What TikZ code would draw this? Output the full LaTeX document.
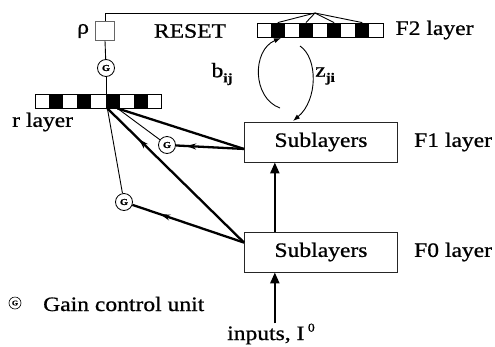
\documentclass[tikz,border=0pt]{standalone}
\usepackage{fontspec}
\setmainfont{Liberation Serif}[FakeStretch=1.15,FakeBold=0.8]
\usetikzlibrary{arrows.meta, positioning, decorations.markings, calc}

\newcommand{\lowidx}[1]{\raisebox{-0.55ex}{\fontsize{13}{13}\selectfont\bfseries #1}}

\tikzset{
  lbl/.style={font=\fontsize{20.5}{22}\selectfont, inner sep=0pt},
  subbox/.style={rectangle, draw=black!85, line width=0.9pt,
                 minimum width=153pt, minimum height=40pt,
                 font=\fontsize{20.5}{22}\selectfont},
  gain/.style={circle, draw, line width=0.8pt, fill=white,
               minimum size=17pt, inner sep=0pt,
               font=\fontsize{9}{9}\selectfont\bfseries},
  cellbar/.style={rectangle, draw, line width=0.8pt, inner sep=0pt,
                  minimum width=126pt, minimum height=14pt},
  thin link/.style={line width=0.9pt},
  thick link/.style={line width=2.3pt},
  midarrow/.style={postaction={decorate},
                   decoration={markings,
                     mark=at position #1 with {\arrow{Stealth[length=10pt,width=6pt]}}}}
}

\begin{document}
\begin{tikzpicture}[x=1pt,y=-1pt]
  \useasboundingbox (0,0) rectangle (495,346);

  \node[cellbar] (rbar) at (98.5,101) {};
  \node[cellbar] (ftwo) at (320,30) {};
  \foreach \i in {1,3,5,7}{
    \fill ($(rbar.south west)!{\i/9}!(rbar.south east)$)
          rectangle ($(rbar.north west)!{(\i+1)/9}!(rbar.north east)$);
    \fill ($(ftwo.south west)!{\i/9}!(ftwo.south east)$)
          rectangle ($(ftwo.north west)!{(\i+1)/9}!(ftwo.north east)$);
  }

  \node[rectangle,draw=black!60,line width=0.6pt,minimum size=19pt,inner sep=0pt]
        (rho) at (105,31) {};
  \node[lbl,left=6pt of rho] (rholbl) {ρ};
  \node[lbl] (reset) at (190,31) {RESET};
  \node[lbl,right=12pt of ftwo] (ftwolbl) {F2 layer};

  \node[gain] (grho) at (106,68) {G};
  \node[gain] (gone) at (167,145) {G};
  \node[gain] (gzero) at (124,202) {G};

  \node[subbox] (fone) at (321,142) {Sublayers};
  \node[subbox] (fzero) at (321,252) {Sublayers};
  \node[lbl,right=16pt of fone] (fonelbl) {F1 layer};
  \node[lbl,right=16pt of fzero] (fzerolbl) {F0 layer};
  \node[lbl,anchor=west] (rlbl) at (12,122) {r layer};

  \node[gain,minimum size=12pt,line width=0.6pt,font=\fontsize{7}{7}\selectfont\bfseries]
        (glegend) at (15,303) {G};
  \node[lbl,anchor=west] (legend) at (43,304) {Gain control unit};
  \node[lbl] (inputs) at (271,334) {inputs, I\,\raisebox{0.9ex}{\fontsize{12}{12}\selectfont 0}};

  % reset path
  \coordinate (apex) at (315,13);
  \draw[thin link] (rho.north) |- (apex);
  \foreach \i in {1,3,5,7}
    \draw[thin link] (apex) -- ($(ftwo.north west)!{(\i+0.5)/9}!(ftwo.north east)$);
  \draw[thin link] (rho.south) -- (grho);
  \draw[thin link] (grho) -- (grho |- rbar.north);

  % r layer inputs
  \coordinate (ra) at ($(rbar.south west)!0.57!(rbar.south east)$);
  \coordinate (rb) at ($(rbar.south west)!0.65!(rbar.south east)$);
  \coordinate (fonein) at ($(fone.north west)!0.67!(fone.south west)$);
  \coordinate (fzeroin) at ($(fzero.north west)!0.27!(fzero.south west)$);
  \draw[thin link] (ra) -- (gzero);
  \draw[thin link] (rb) -- (gone);
  \draw[thick link] (fonein) -- (rb);
  \draw[thick link,midarrow=0.77] (fzeroin) -- (ra);
  \draw[thick link,midarrow=0.85] (fonein) -- (gone);
  \draw[thick link,midarrow=0.75] (fzeroin) -- (gzero);

  % bottom-up
  \draw[thick link,-{Triangle[length=11pt,width=9pt]}]
        ($(fzero.north west)!0.2!(fzero.north east)$) coordinate (upa) -- (upa |- fone.south);
  \draw[thick link,-{Triangle[length=11pt,width=9pt]}]
        (inputs.north -| upa) -- (upa |- fzero.south);

  % adaptive filters
  \coordinate (bstart) at (280,108);
  \coordinate (bend) at (281,38);
  \coordinate (zstart) at (300,46);
  \coordinate (zend) at (293,121);
  \draw[thin link,-{Latex[length=7pt,width=5pt]}]
        (bstart) .. controls (252,98) and (252,50) .. (bend);
  \draw[thin link,-{Latex[length=7pt,width=5pt]}]
        (zstart) .. controls (318,58) and (318,100) .. (zend);
  \node[lbl] (bij) at (222,74) {b\lowidx{ij}};
  \node[lbl] (zji) at (325,76) {z\lowidx{ji}};
\end{tikzpicture}
\end{document}
